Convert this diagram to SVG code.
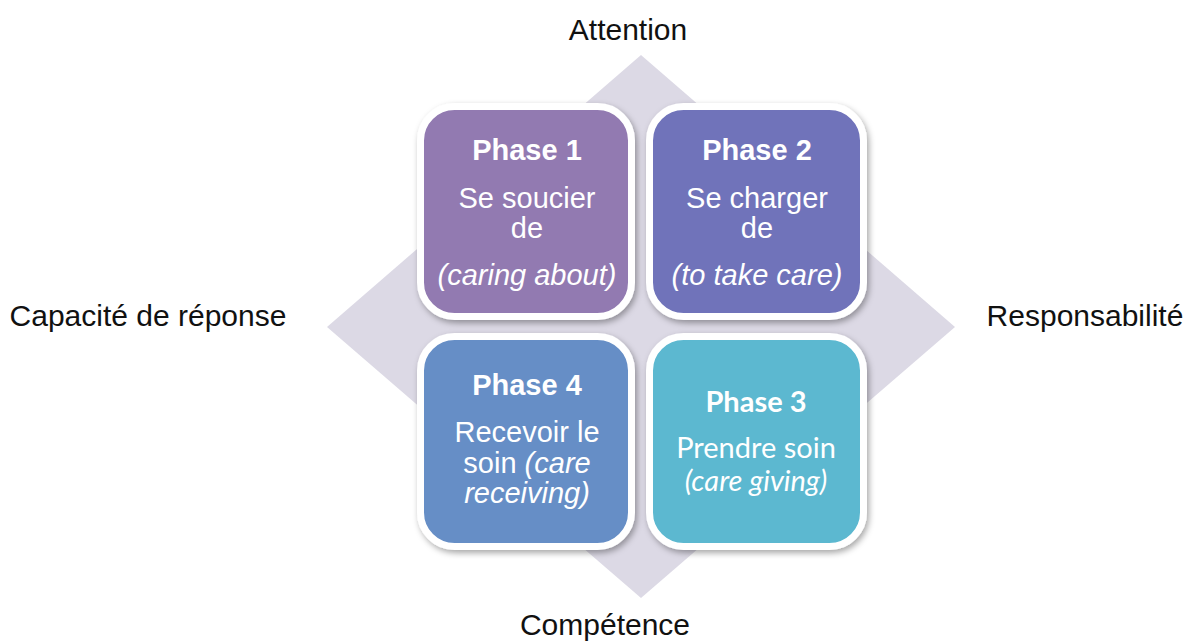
<svg xmlns="http://www.w3.org/2000/svg" width="1191" height="642" viewBox="0 0 1191 642">
  <defs>
    <filter id="shadow" x="-10%" y="-10%" width="125%" height="125%">
      <feDropShadow dx="2" dy="3" stdDeviation="3" flood-color="#000" flood-opacity="0.35"/>
    </filter>
  </defs>
  <style>
    .axis { font-family: "Liberation Sans", Arial, sans-serif; font-size: 30px; fill: #111; text-anchor: middle; }
    .box { stroke: #fff; stroke-width: 7; filter: url(#shadow); }
    .head { font-family: "Liberation Sans", Arial, sans-serif; font-size: 29px; font-weight: bold; fill: #fff; text-anchor: middle; }
    .body { font-family: "Liberation Sans", Arial, sans-serif; font-size: 29px; fill: #fff; text-anchor: middle; }
    .it { font-style: italic; }
    .cal { font-family: Lato, "Open Sans", sans-serif; }
  </style>
  <rect width="1191" height="642" fill="#fff"/>
  <g id="background">
    <polygon points="641,55 955,327 641,598 327,327" fill="#DCD9E5"/>
  </g>
  <g id="labels">
    <text class="axis" x="628" y="40">Attention</text>
    <text class="axis" x="148" y="326">Capacité de réponse</text>
    <text class="axis" x="1085" y="326">Responsabilité</text>
    <text class="axis" x="605" y="635">Compétence</text>
  </g>
  <g id="phase1">
    <rect class="box" x="420.5" y="106.5" width="211" height="210" rx="34" fill="#927AB1"/>
    <text class="head" x="527" y="160">Phase 1</text>
    <text class="body" x="527" y="208">Se soucier</text>
    <text class="body" x="527" y="238">de</text>
    <text class="body it" x="527" y="285" font-size="27">(caring about)</text>
  </g>
  <g id="phase2">
    <rect class="box" x="649.5" y="106.5" width="214" height="210" rx="34" fill="#6F73BA"/>
    <text class="head" x="757" y="160">Phase 2</text>
    <text class="body" x="757" y="208">Se charger</text>
    <text class="body" x="757" y="238">de</text>
    <text class="body it" x="757" y="285" font-size="27">(to take care)</text>
  </g>
  <g id="phase4">
    <rect class="box" x="420.5" y="336.5" width="211" height="210" rx="34" fill="#668EC6"/>
    <text class="head" x="527" y="395">Phase 4</text>
    <text class="body" x="527" y="442">Recevoir le</text>
    <text class="body" x="527" y="473">soin <tspan class="it">(care</tspan></text>
    <text class="body it" x="527" y="503">receiving)</text>
  </g>
  <g id="phase3">
    <rect class="box" x="649.5" y="336.5" width="214" height="210" rx="34" fill="#5BB8D0"/>
    <text class="head cal" x="756" y="412">Phase 3</text>
    <text class="body cal" x="756" y="458" font-size="27">Prendre soin</text>
    <text class="body cal it" x="756" y="491" font-size="27">(care giving)</text>
  </g>
</svg>
